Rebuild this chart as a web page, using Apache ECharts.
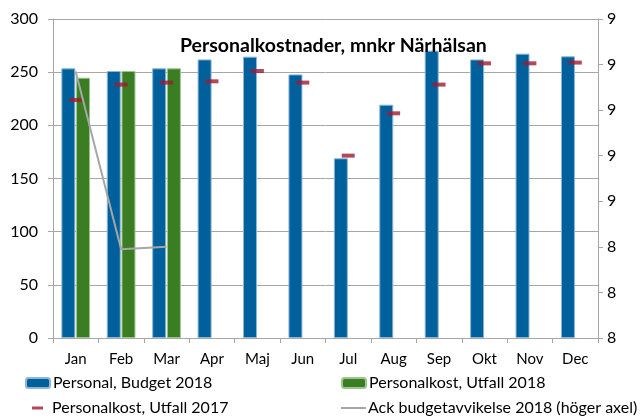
<!DOCTYPE html>
<html>
<head>
<meta charset="utf-8">
<script src="https://cdn.jsdelivr.net/npm/echarts@6/dist/echarts.min.js"></script>
<style>
  html, body { margin: 0; padding: 0; background: #fff; }
  #chart { width: 643px; height: 416px; }
</style>
</head>
<body>
<div id="chart"></div>
<script>
// månader
var months = ['Jan', 'Feb', 'Mar', 'Apr', 'Maj', 'Jun', 'Jul', 'Aug', 'Sep', 'Okt', 'Nov', 'Dec'];
// mnkr
var budget2018 = [253.6, 251.1, 253.6, 262, 264.6, 247.9, 169, 219.4, 270.2, 262, 267.4, 264.9];
var utfall2018 = [244.8, 251.1, 253.6];
var utfall2017 = [223.8, 238.3, 240.2, 241.4, 251.1, 240.2, 171.5, 211.3, 238.3, 258.3, 258.3, 259];
// höger axel
var ackAvvikelse = [9.17, 8.39, 8.40];

var font = 'Lato';
var chart = echarts.init(document.getElementById('chart'));

var legendBase = {
  orient: 'horizontal',
  padding: 0,
  itemWidth: 24,
  itemHeight: 10,
  textStyle: { fontFamily: font, fontSize: 16, color: '#000', padding: [0, 0, 0, -2] }
};

var option = {
  animation: false,
  title: {
    text: 'Personalkostnader, mnkr Närhälsan',
    left: 175,
    top: 31,
    textStyle: { fontFamily: font, fontSize: 19.5, fontWeight: 'bold', color: '#000' }
  },
  legend: [
    Object.assign({}, legendBase, { left: 25, top: 375, data: ['Personal, Budget 2018'] }),
    Object.assign({}, legendBase, { left: 341, top: 375, data: ['Personalkost, Utfall 2018'] }),
    Object.assign({}, legendBase, {
      left: 32, top: 400, itemWidth: 11, itemHeight: 3,
      textStyle: { fontFamily: font, fontSize: 16, color: '#000', padding: [0, 0, 0, 4] },
      data: [{ name: 'Personalkost, Utfall 2017', icon: 'rect' }]
    }),
    Object.assign({}, legendBase, {
      left: 341, top: 400, itemWidth: 25, itemHeight: 2,
      textStyle: { fontFamily: font, fontSize: 16, color: '#000', padding: [0, 0, 0, -3] },
      data: [{ name: 'Ack budgetavvikelse 2018 (höger axel)', icon: 'rect' }]
    })
  ],
  grid: { left: 53, right: 45, top: 19, bottom: 78 },
  xAxis: {
    type: 'category',
    data: months,
    axisLine: { lineStyle: { color: '#a6a6a6' } },
    axisTick: { show: true, length: 5, lineStyle: { color: '#a6a6a6' } },
    axisLabel: { fontFamily: font, fontSize: 15, color: '#000', margin: 14 }
  },
  yAxis: [
    {
      type: 'value',
      min: 0,
      max: 300,
      interval: 50,
      axisLine: { show: true, lineStyle: { color: '#a6a6a6' } },
      axisTick: { show: true, length: 5, lineStyle: { color: '#a6a6a6' } },
      axisLabel: { fontFamily: font, fontSize: 16, color: '#000', margin: 15 },
      splitLine: { lineStyle: { color: '#a6a6a6', width: 1 } }
    },
    {
      type: 'value',
      min: 8,
      max: 9.4,
      interval: 0.2,
      position: 'right',
      axisLine: { show: true, lineStyle: { color: '#a6a6a6' } },
      axisTick: { show: true, length: 5, lineStyle: { color: '#a6a6a6' } },
      axisLabel: {
        fontFamily: font, fontSize: 16, color: '#000', margin: 9,
        formatter: function (v) { return Math.round(v); }
      },
      splitLine: { show: false }
    }
  ],
  series: [
    {
      name: 'Personal, Budget 2018',
      type: 'bar',
      data: budget2018,
      barWidth: 14,
      barGap: '5%',
      itemStyle: { color: '#00609c', borderColor: '#8db6d8', borderWidth: 1 }
    },
    {
      name: 'Personalkost, Utfall 2018',
      type: 'bar',
      data: utfall2018,
      barWidth: 14,
      itemStyle: { color: '#3a7d22', borderColor: '#9cc78c', borderWidth: 1 }
    },
    {
      name: 'Personalkost, Utfall 2017',
      type: 'scatter',
      data: utfall2017,
      symbol: 'rect',
      symbolSize: [13, 4],
      z: 5,
      itemStyle: { color: '#9e1b34' }
    },
    {
      name: 'Ack budgetavvikelse 2018 (höger axel)',
      type: 'line',
      yAxisIndex: 1,
      data: ackAvvikelse,
      showSymbol: false,
      symbol: 'none',
      z: 6,
      lineStyle: { color: '#a6a6a6', width: 2 },
      itemStyle: { color: '#a6a6a6' }
    }
  ]
};

chart.setOption(option);
</script>
</body>
</html>
